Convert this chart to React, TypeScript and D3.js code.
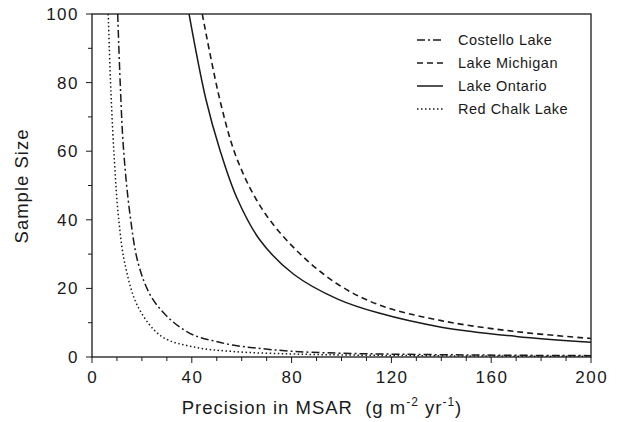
import React from "react";
import * as d3 from "d3";

// Values (precision, sample size)
const costelloX = [10.3, 11.3, 12.6, 15.2, 18.6, 23.9, 31.9, 40.7, 49.3, 57, 66, 79.4, 100, 150, 200];
const costelloY = [100, 80, 61, 41.7, 27.1, 17.4, 10.6, 6.4, 4.6, 3.4, 2.6, 1.7, 1.1, 0.6, 0.4];
const michiganX = [44.2, 51.6, 58.3, 68.4, 81.8, 97.9, 115, 140, 170, 200];
const michiganY = [100, 73.9, 57.4, 42.9, 31.2, 21.5, 15.2, 10.6, 7.4, 5.4];
const ontarioX = [38.9, 45.7, 51.3, 58, 67.3, 80.7, 98.7, 115, 140, 170, 200];
const ontarioY = [100, 75, 60.3, 46.5, 34.1, 24.2, 16.8, 12.8, 8.7, 6.0, 4.3];
const redChalkX = [6.5, 7.6, 9.0, 10.5, 13.2, 18.6, 27.9, 40.2, 56.6, 79.4, 100, 150, 200];
const redChalkY = [100, 77, 57, 41.7, 27.1, 14.4, 6.0, 3.0, 1.6, 0.9, 0.6, 0.3, 0.2];

const seriesNames = ["Costello Lake", "Lake Michigan", "Lake Ontario", "Red Chalk Lake"];
const xTicks = [0, 40, 80, 120, 160, 200];
const yTicks = [0, 20, 40, 60, 80, 100];

const W = 621;
const H = 422;
const left = 92, right = 591, top = 14, bottom = 357;
const FONT = "'Liberation Sans', Arial, sans-serif";
const INK = "#1a1a1a";

export default function App() {
  const x = d3.scaleLinear().domain([0, 200]).range([left, right]);
  const y = d3.scaleLinear().domain([0, 100]).range([bottom, top]);
  const line = d3
    .line<[number, number]>()
    .x((d) => x(d[0]))
    .y((d) => y(d[1]))
    .curve(d3.curveCatmullRom.alpha(0.5));

  const series = [
    { name: seriesNames[0], xs: costelloX, ys: costelloY, dash: "8,3,2,3", w: 1.5 },
    { name: seriesNames[1], xs: michiganX, ys: michiganY, dash: "6,4", w: 1.6 },
    { name: seriesNames[2], xs: ontarioX, ys: ontarioY, dash: "", w: 1.5 },
    { name: seriesNames[3], xs: redChalkX, ys: redChalkY, dash: "1.5,2.5", w: 1.5 },
  ];

  const xMinor = d3.range(0, 201, 10);
  const yMinor = d3.range(0, 101, 10);

  return (
    <svg
      width={W}
      height={H}
      style={{ position: "absolute", left: 0, top: 0, background: "#fff" }}
      fontFamily={FONT}
    >
      <defs>
        <clipPath id="plot">
          <rect x={left} y={top} width={right - left} height={bottom - top} />
        </clipPath>
      </defs>
      {/* frame */}
      <rect x={left} y={top} width={right - left} height={bottom - top} fill="none" stroke={INK} strokeWidth={1.3} />
      {/* x ticks */}
      {xMinor.map((v) => (
        <line key={"xt" + v} x1={x(v)} x2={x(v)} y1={bottom} y2={bottom + (v % 40 === 0 ? 6 : 4)} stroke={INK} strokeWidth={1} />
      ))}
      {xTicks.map((v) => (
        <text key={"xl" + v} x={x(v) + 0.75} y={383} fontSize={17} letterSpacing={1.5} textAnchor="middle" fill={INK}>
          {v}
        </text>
      ))}
      {/* y ticks */}
      {yMinor.map((v) => (
        <line key={"yt" + v} x1={left - (v % 20 === 0 ? 6 : 4)} x2={left} y1={y(v)} y2={y(v)} stroke={INK} strokeWidth={1} />
      ))}
      {yTicks.map((v) => (
        <text key={"yl" + v} x={79} y={y(v)} dy="0.35em" fontSize={17} letterSpacing={1.5} textAnchor="end" fill={INK}>
          {v}
        </text>
      ))}
      {/* axis titles */}
      <text x={22} y={186} fontSize={18.5} letterSpacing={1} textAnchor="middle" fill={INK} transform="rotate(-90 22 186)" dy="0.35em">
        Sample Size
      </text>
      <text x={322} y={414} fontSize={18.5} letterSpacing={1} textAnchor="middle" fill={INK}>
        Precision in MSAR{"\u00a0\u00a0"}(g m
        <tspan fontSize={12} dy={-8}>-2</tspan>
        <tspan dy={8}> yr</tspan>
        <tspan fontSize={12} dy={-8}>-1</tspan>
        <tspan dy={8}>)</tspan>
      </text>
      {/* curves */}
      <g clipPath="url(#plot)">
        {series.map((s) => (
          <path
            key={s.name}
            d={line(s.xs.map((v, i) => [v, s.ys[i]] as [number, number])) || ""}
            fill="none"
            stroke={INK}
            strokeWidth={s.w}
            strokeDasharray={s.dash || undefined}
          />
        ))}
      </g>
      {/* legend */}
      {series.map((s, i) => {
        const ly = 40 + i * 23;
        return (
          <g key={"lg" + s.name}>
            <line x1={417} x2={443} y1={ly} y2={ly} stroke={INK} strokeWidth={s.w} strokeDasharray={s.dash || undefined} />
            <text x={458} y={ly} dy="0.35em" fontSize={14.5} letterSpacing={0.5} fill={INK}>
              {s.name}
            </text>
          </g>
        );
      })}
    </svg>
  );
}
